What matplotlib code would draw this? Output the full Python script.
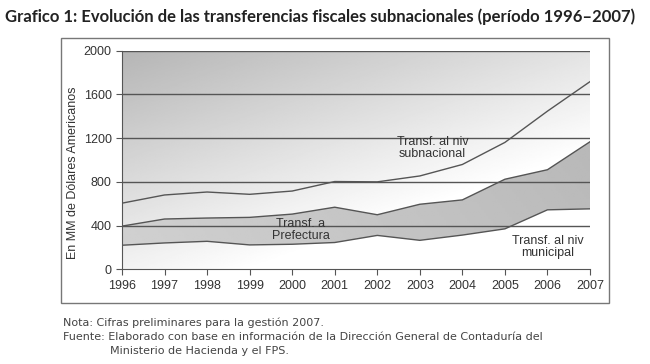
"""Evolución de las transferencias fiscales subnacionales, 1996-2007."""

import numpy
from matplotlib import pyplot
from matplotlib.patches import Rectangle

years = [1996, 1997, 1998, 1999, 2000, 2001, 2002, 2003, 2004, 2005, 2006, 2007]
subnacional = [605, 680, 707, 686, 716, 803, 800, 854, 959, 1161, 1447, 1717]
prefectura = [395, 460, 469, 475, 505, 568, 499, 595, 635, 824, 911, 1167]
municipal = [220, 241, 256, 223, 229, 245, 310, 265, 313, 370, 544, 553]
yticks = [0, 400, 800, 1200, 1600, 2000]

pyplot.rc('font', family='Liberation Sans', size=9)

fig = pyplot.figure(figsize=(6.5, 3.64), dpi=100)
ax = fig.add_axes([0.1877, 0.2602, 0.72, 0.6005])

# Frame around the chart.
fig.patches.append(Rectangle((61 / 650, 1 - 303 / 364), 548 / 650, 265 / 364,
                             transform=fig.transFigure, fill=False,
                             edgecolor='#777777', linewidth=1.0))

# Diagonal grey gradient for the background (row 0 at the bottom).
gx, gy = numpy.meshgrid(numpy.linspace(0, 1, 200), numpy.linspace(0, 1, 200))
bg = numpy.clip(0.71 + 0.18 * gx + 0.24 * (1 - gy), 0, 1)
ax.imshow(bg, cmap='gray', vmin=0, vmax=1, origin='lower', aspect='auto',
          extent=(years[0], years[-1], 0, 2000), zorder=0)

# Darker band between municipal and prefectura.
band = ax.fill_between(years, municipal, prefectura, color='none')
band_img = numpy.clip(0.79 - 0.08 * gx + 0.03 * (1 - gy), 0, 1)
im = ax.imshow(band_img, cmap='gray', vmin=0, vmax=1, origin='lower',
               aspect='auto', extent=(years[0], years[-1], 0, 2000), zorder=1)
im.set_clip_path(band.get_paths()[0], transform=ax.transData)

for yv in yticks[1:]:
    ax.axhline(yv, color='#555555', linewidth=1.0, zorder=2)

for series in (subnacional, prefectura, municipal):
    ax.plot(years, series, color='#555555', linewidth=1.0, zorder=3)

ax.text(2003.3, 1110, 'Transf. al niv\nsubnacional', ha='center', va='center',
        color='#333333', fontsize=9, linespacing=1.0, zorder=4)
ax.text(2000.2, 360, 'Transf. a\nPrefectura', ha='center', va='center',
        color='#333333', fontsize=9, linespacing=1.0, zorder=4)
ax.text(2006.0, 205, 'Transf. al niv\nmunicipal', ha='center', va='center',
        color='#333333', fontsize=9, linespacing=1.0, zorder=4)

ax.set_xlim(years[0], years[-1])
ax.set_ylim(0, 2000)
ax.set_xticks(years)
ax.set_yticks(yticks)
ax.tick_params(direction='out', length=4, color='#555555', labelcolor='#333333',
               labelsize=9)
ax.set_ylabel('En MM de Dólares Americanos', color='#333333', fontsize=9)
ax.yaxis.set_label_coords(-0.092, 0.443)
for side in ('top', 'right'):
    ax.spines[side].set_visible(False)
for side in ('left', 'bottom'):
    ax.spines[side].set_color('#555555')

fig.text(0.008, 0.955, 'Grafico 1: Evolución de las transferencias fiscales '
         'subnacionales (período 1996–2007)', fontsize=12, fontweight='bold',
         family='Lato', color='#222222', va='center')

foot = dict(fontsize=8, family='DejaVu Sans', color='#444444', va='center')
fig.text(63 / 650, 1 - 323 / 364,
         'Nota: Cifras preliminares para la gestión 2007.', **foot)
fig.text(63 / 650, 1 - 337 / 364, 'Fuente: Elaborado con base en información de '
         'la Dirección General de Contaduría del', **foot)
fig.text(110 / 650, 1 - 351 / 364, 'Ministerio de Hacienda y el FPS.', **foot)

fig.savefig('out.png', dpi=100)
